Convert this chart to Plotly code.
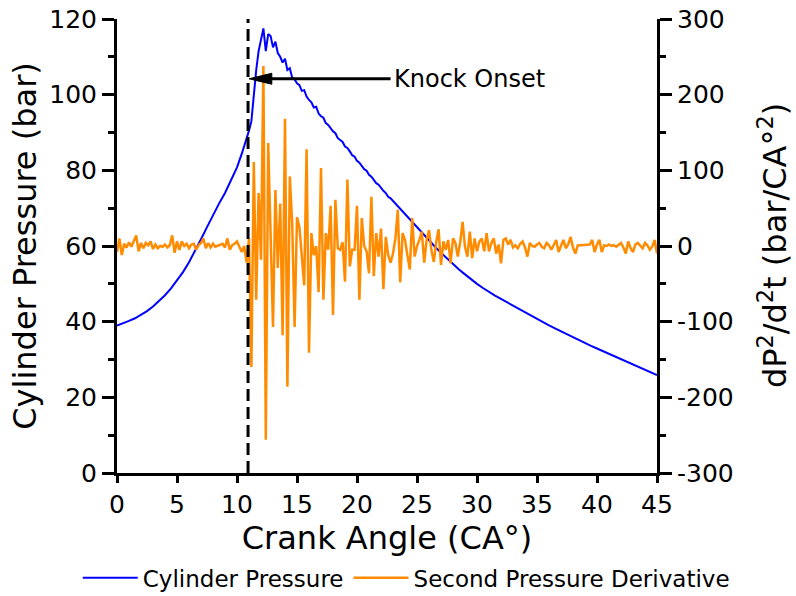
import plotly.graph_objects as go

# ---- data ----
deriv_step = 0.2  # CA degrees between derivative samples
second_derivative = [
    -8, 10, -12, 3, -2, 5, -1, 6, 14, -7,
    4, -3, 4, 1, 6, -4, 2, -3, 0, -1,
    2, -2, 1, 14, -9, 6, -5, 6, 0, 3,
    -3, 2, 3, -5, 1, 4, 10, -3, 4, -2,
    3, -1, 0, 1, 3, -2, 10, -5, 1, 3,
    6, -1, -8, 0,
    -22, 10, -160, 111, -71, 70, -18, 238, -256, 136,
    20, -107, 74, -29, 56, -118, 168, -186, 92, 30,
    -107, 38, 25, -10, -52, 128, -141, 17, -12, 0,
    -61, 103, -71, 17, -5, 53, -91, 61, -3, -5,
    5, -47, 88, -27, -5, -5, 53, -71, 37, 0,
    -7, -36, 65, -40, 17, -14, 23, -57, 12, -12,
    -22, -10, 10, 48, -48, 17, 8, -12, -31, 37,
    -14, 0, 8, 19, -22, 8, 21,
    -5, -21, 5, 22, -25, 6, -5, 8, -23, 10,
    4, -14, 5, 32, -1, -14, 19, -16, 10, -7,
    6, 10, -7, 17, -7, 4, 10, -10, 2, -23,
    8, 10, 2, 8, -2, 1, -3, 3, 6, -2,
    -14, 4, 0, -1, 2, 4, -1, -3, 4, 1,
    -5, 2, 8, -8, 1, 8, -3, 2, 12, -2,
    -10, 1, 1, 1, 1, 1, 2, 8, -8, 2,
    8, -8, 1, 0, 2, 0, 1, -1, 1, 4,
    -2, -10, 6, -3, -8, 2, 4, 0, -3, 4,
    1, -5, -1, 8, -10,
]
deriv_angle = [round(i * deriv_step, 1) for i in range(len(second_derivative))]

pressure_angle = [
    0, 0.5, 1, 1.5, 2, 2.5, 3, 3.5, 4, 4.5, 5, 5.5, 6, 6.5, 7, 7.5, 8, 8.5, 9, 9.5, 10, 10.4,
    10.6, 10.8, 11.0, 11.2, 11.4, 11.6, 11.8, 12.0, 12.2, 12.4, 12.6, 12.8, 13.0, 13.2, 13.4,
    13.6, 13.8, 14.0, 14.2, 14.4, 14.6, 14.8, 15.0, 15.2, 15.4, 15.6, 15.8, 16.0, 16.2, 16.4,
    16.6, 16.8, 17.0, 17.2, 17.4, 17.6, 17.8, 18.0, 18.2, 18.4, 18.6, 18.8, 19.0, 19.2, 19.4,
    19.6, 19.8, 20.0, 20.2, 20.4, 20.6, 20.8, 21.0, 21.2, 21.4, 21.6, 21.8, 22.0, 22.2, 22.4,
    22.6, 22.8, 23.0, 23.2, 23.4, 23.6, 23.8, 24.0, 24.2, 24.4, 24.6, 24.8, 25.0, 25.2, 25.4,
    25.6, 25.8, 26.0, 26.5, 27, 27.5, 28, 28.5, 29, 29.5, 30, 30.5, 31, 31.5, 32, 32.5, 33,
    33.5, 34, 34.5, 35, 35.5, 36, 36.5, 37, 37.5, 38, 38.5, 39, 39.5, 40, 40.5, 41, 41.5, 42,
    42.5, 43, 43.5, 44, 44.5, 45,
]
cylinder_pressure = [
    39.0, 39.5, 40.2, 40.9, 41.8, 42.8, 44.0, 45.4, 47.0, 48.8, 50.8, 53.1, 55.7, 58.6, 61.8,
    65.0, 68.2, 71.2, 74.0, 77.2, 80.8, 84.4,
    86.3, 88.0, 90.5, 93.0, 100.0, 106.5, 111.5, 115.0, 117.5, 111.5, 116.0, 115.5, 112.5,
    114.0, 111.0, 110.0, 108.5, 109.5, 106.5, 107.0, 104.5, 104.0, 103.0, 102.5, 101.0, 101.2,
    99.5, 98.6, 98.0, 96.6, 96.8, 95.0, 94.3, 93.9, 92.5, 92.0, 91.0, 90.3, 89.8, 88.5, 88.0,
    87.5, 86.3, 85.9, 85.0, 84.0, 83.6, 82.5, 82.0, 81.2, 80.3, 79.9, 78.8, 78.3, 77.5, 76.6,
    76.2, 75.3, 74.6, 74.0, 73.0, 72.6, 71.9, 71.2, 70.6, 69.8, 69.2, 68.5, 67.8, 67.2, 66.4,
    65.8, 65.0, 64.4, 63.6, 63.0, 62.2, 61.5, 59.8, 58.2, 56.7, 55.2, 53.8, 52.5, 51.2, 50.0,
    48.9, 47.8, 46.9, 46.0, 45.1, 44.2, 43.3, 42.4, 41.5, 40.6, 39.8, 39.0, 38.2, 37.4, 36.6,
    35.8, 35.1, 34.4, 33.6, 32.9, 32.2, 31.5, 30.8, 30.1, 29.4, 28.7, 28.0, 27.3, 26.6, 25.9,
]

knock_onset_angle = 10.92
knock_label = "Knock Onset"
right_title = "dP<sup>2</sup>/d<sup>2</sup>t (bar/CA°<sup>2</sup>)"
x_ticks = [0, 5, 10, 15, 20, 25, 30, 35, 40, 45]
left_ticks = [0, 20, 40, 60, 80, 100, 120]
right_ticks = [-300, -200, -100, 0, 100, 200, 300]
right_tick_text = ["-300", "-200", "-100", "0", "100", "200", "300"]

FONT = "DejaVu Sans"

fig = go.Figure()
fig.add_trace(go.Scatter(
    x=pressure_angle, y=cylinder_pressure, mode="lines", name="Cylinder Pressure",
    line=dict(color="#0000FF", width=2), yaxis="y"))
fig.add_trace(go.Scatter(
    x=deriv_angle, y=second_derivative, mode="lines", name="Second Pressure Derivative",
    line=dict(color="#FF8C00", width=2.5), yaxis="y2"))


def axis_style(ticklen=12):
    return dict(
        showgrid=False, zeroline=False, showline=True, linecolor="black", linewidth=3,
        ticks="outside", tickcolor="black", tickwidth=3, ticklen=ticklen, automargin=False,
        tickfont=dict(family=FONT, size=25, color="black"),
    )


fig.update_layout(
    width=796, height=596,
    margin=dict(l=117, r=139, t=19, b=123, autoexpand=False),
    paper_bgcolor="white", plot_bgcolor="white",
    font=dict(family=FONT, color="black"),
    xaxis=dict(
        range=[0, 45], tickvals=x_ticks, **axis_style(7),
        title=dict(text="Crank Angle (CA°)", font=dict(family=FONT, size=32, color="black"), standoff=6),
    ),
    yaxis=dict(
        range=[0, 120], tickvals=left_ticks, **axis_style(),
        minor=dict(dtick=10, ticks="outside", ticklen=6, tickwidth=3, tickcolor="black"),
        title=dict(text="Cylinder Pressure (bar)", font=dict(family=FONT, size=32, color="black"), standoff=4),
    ),
    yaxis2=dict(
        range=[-300, 300], tickvals=right_ticks, ticktext=right_tick_text, overlaying="y", side="right",
        **axis_style(),
        minor=dict(dtick=50, ticks="outside", ticklen=6, tickwidth=3, tickcolor="black"),
    ),
    legend=dict(orientation="h", x=1.144, xanchor="right", y=-0.231, yanchor="middle",
                itemwidth=55,
                font=dict(family=FONT, size=23, color="black"), bgcolor="rgba(0,0,0,0)"),
    showlegend=True,
)

# right axis title (placed as rotated text beside the secondary axis)
fig.add_annotation(
    x=1.2148, y=0.502, xref="paper", yref="paper", text=right_title, textangle=-90,
    xanchor="center", yanchor="middle", showarrow=False,
    font=dict(family=FONT, size=32, color="black"),
)

# dashed knock-onset marker
fig.add_shape(type="line", xref="x", yref="y", x0=knock_onset_angle, x1=knock_onset_angle,
              y0=0, y1=120, line=dict(color="black", width=3, dash="12px,6px"))

# arrow pointing at knock onset
arrow_y = 104.2
arrow_tip = knock_onset_angle + 0.08
head_len = 1.9      # CA degrees
head_half = 1.45    # bar
fig.add_shape(type="line", xref="x", yref="y", x0=arrow_tip + head_len - 0.1, x1=22.8,
              y0=arrow_y, y1=arrow_y, line=dict(color="black", width=3))
fig.add_shape(type="path", xref="x", yref="y",
              path=f"M {arrow_tip},{arrow_y} L {arrow_tip + head_len},{arrow_y + head_half} "
                   f"L {arrow_tip + head_len},{arrow_y - head_half} Z",
              fillcolor="black", line=dict(color="black", width=1))

fig.add_annotation(
    x=22.95, y=arrow_y, xref="x", yref="y", text=knock_label, xanchor="left", yanchor="middle",
    showarrow=False, font=dict(family=FONT, size=24, color="black"),
)

fig.write_html("out.html")
